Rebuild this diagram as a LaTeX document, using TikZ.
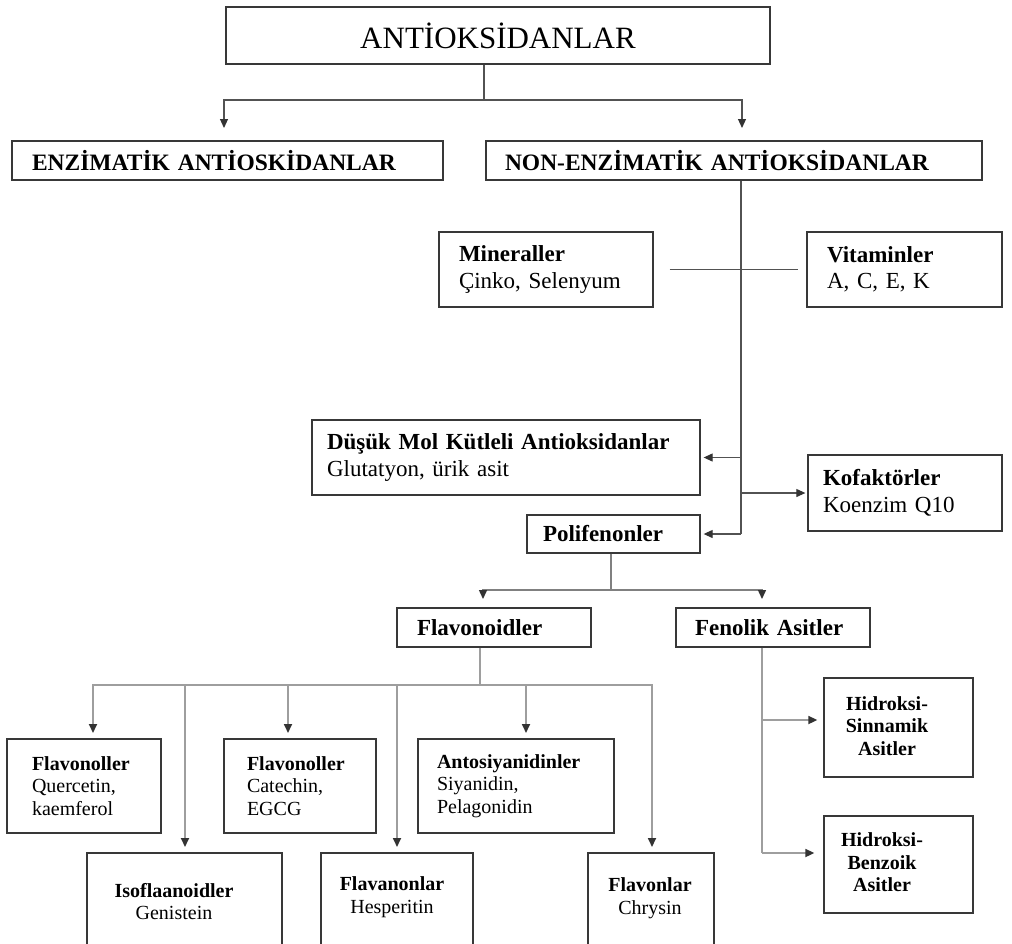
\documentclass[tikz,border=0pt]{standalone}
\usepackage{fontspec}
\setmainfont[WordSpace=0.8]{Liberation Serif}
\usetikzlibrary{arrows.meta}
\newcommand{\titlefont}{\fontsize{31}{34}\selectfont}
\newcommand{\headfont}{\fontsize{23.5}{27}\bfseries\selectfont}
\newcommand{\midfont}{\fontsize{23}{26.5}\selectfont}
\newcommand{\lowfont}{\fontsize{20}{22.5}\selectfont}
\begin{document}
\begin{tikzpicture}[x=1pt,y=-1pt,
  box/.style={draw=black!78, line width=1.3pt, rectangle, inner ysep=0pt, align=left},
  ln/.style={draw=black!68, line width=1.1pt},
  lnm/.style={draw=black!50, line width=1.4pt},
  ln2/.style={draw=black!38, line width=1.7pt},
  tip/.style={-{Triangle[length=9pt,width=8pt,color=black!80]}}
]
\useasboundingbox (0,0) rectangle (1012,943);
\clip (0,0) rectangle (1012,943);

% ---------- boxes ----------
\node[box, minimum width=544pt, minimum height=57pt, align=center, font=\titlefont] (top) at (498,35.5) {ANTİOKSİDANLAR};

\node[box, minimum width=431pt, minimum height=39pt, text width=391pt, inner xsep=20pt, font=\headfont] (enz) at (227.5,160.5) {ENZİMATİK ANTİOSKİDANLAR};
\node[box, minimum width=496pt, minimum height=39pt, text width=458pt, inner xsep=19pt, font=\headfont] (nonenz) at (734,160.5) {NON-ENZİMATİK ANTİOKSİDANLAR};

\node[box, minimum width=214pt, minimum height=75pt, text width=174pt, inner xsep=20pt, font=\midfont] (min) at (546,269.5) {\textbf{Mineraller}\\Çinko, Selenyum};
\node[box, minimum width=195pt, minimum height=75pt, text width=155pt, inner xsep=20pt, font=\midfont] (vit) at (904.5,269.5) {\textbf{Vitaminler}\\A, C, E, K};

\node[box, minimum width=388pt, minimum height=75pt, text width=358pt, inner xsep=15pt, font=\midfont] (dus) at (506,457.5) {\textbf{Düşük Mol Kütleli Antioksidanlar}\\Glutatyon, ürik asit};
\node[box, minimum width=194pt, minimum height=76pt, text width=164pt, inner xsep=15pt, font=\midfont] (kof) at (905,493) {\textbf{Kofaktörler}\\Koenzim Q10};

\node[box, minimum width=173pt, minimum height=38pt, text width=141pt, inner xsep=16pt, font=\midfont\bfseries] (pol) at (613.5,534) {Polifenonler};

\node[box, minimum width=194pt, minimum height=39pt, text width=154pt, inner xsep=20pt, font=\midfont\bfseries] (flav) at (494,627.5) {Flavonoidler};
\node[box, minimum width=194pt, minimum height=39pt, text width=156pt, inner xsep=19pt, font=\midfont\bfseries] (fen) at (773,627.5) {Fenolik Asitler};

\node[box, minimum width=154pt, minimum height=94pt, text width=104pt, inner xsep=25pt, font=\lowfont] (fl1) at (84,786) {\textbf{Flavonoller}\\Quercetin,\\kaemferol};
\node[box, minimum width=152pt, minimum height=94pt, text width=106pt, inner xsep=23pt, font=\lowfont] (fl2) at (300,786) {\textbf{Flavonoller}\\Catechin,\\EGCG};
\node[box, minimum width=196pt, minimum height=94pt, text width=158pt, inner xsep=19pt, font=\lowfont] (anto) at (516,786) {\textbf{Antosiyanidinler}\\Siyanidin,\\Pelagonidin};

\node[box, minimum width=195pt, minimum height=110pt] (iso) at (184.5,908) {};
\node[font=\lowfont, align=center, inner sep=0pt] (isot) at (174,901.5) {\textbf{Isoflaanoidler}\\Genistein};
\node[box, minimum width=152pt, minimum height=110pt] (flan) at (397,908) {};
\node[font=\lowfont, align=center, inner sep=0pt] (flant) at (392,897) {\textbf{Flavanonlar}\\Hesperitin};
\node[box, minimum width=126pt, minimum height=110pt] (flon) at (651,908) {};
\node[font=\lowfont, align=center, inner sep=0pt] (flont) at (650,898) {\textbf{Flavonlar}\\Chrysin};

\node[box, minimum width=149pt, minimum height=99pt] (hs) at (898.5,727.5) {};
\node[font=\lowfont\bfseries, align=center, inner sep=0pt] (hst) at (887,726) {Hidroksi-\\Sinnamik\\Asitler};
\node[box, minimum width=149pt, minimum height=97pt] (hb) at (898.5,864.5) {};
\node[font=\lowfont\bfseries, align=center, inner sep=0pt] (hbt) at (882,862.5) {Hidroksi-\\Benzoik\\Asitler};

% ---------- connectors ----------
\coordinate (j1) at (484,100);
\coordinate (a1) at (224,128);
\coordinate (a2) at (742,128);
\draw[ln] (top.south -| j1) -- (j1);
\draw[ln,tip] (j1) -| (a1);
\draw[ln,tip] (j1) -| (a2);

\coordinate (tE) at (741,534);
\draw[ln] (nonenz.south -| tE) -- (tE);
\draw[ln] ([xshift=16pt]min.east) -- ([xshift=-8pt]vit.west);
\draw[ln,tip,shorten >=3pt] (dus.east -| tE) -- (dus.east);
\draw[ln,tip,shorten >=2pt] (kof.west -| tE) -- (kof.west);
\draw[ln,tip,shorten >=3pt] (tE) -- (pol.east);

\coordinate (j2) at (611,590);
\coordinate (b1) at (483,599);
\coordinate (b2) at (762,599);
\draw[lnm] (pol.south -| j2) -- (j2);
\draw[lnm,tip] (j2) -| (b1);
\draw[lnm,tip] (j2) -| (b2);

\coordinate (j3) at (480,685);
\coordinate (c1) at (93,733);
\coordinate (c2) at (185,847);
\coordinate (c3) at (288,733);
\coordinate (c4) at (397,847);
\coordinate (c5) at (526,733);
\coordinate (c6) at (652,847);
\draw[ln2] (flav.south -| j3) -- (j3);
\foreach \c in {c1,c2,c3,c4,c5,c6} \draw[ln2,tip] (j3) -| (\c);

\coordinate (k1) at (762,720);
\coordinate (k2) at (762,853);
\draw[ln2] (fen.south -| k1) -- (k2);
\draw[ln2,tip,shorten >=6pt] (k1) -- (k1 -| hs.west);
\draw[ln2,tip,shorten >=9pt] (k2) -- (k2 -| hb.west);
\end{tikzpicture}
\end{document}
